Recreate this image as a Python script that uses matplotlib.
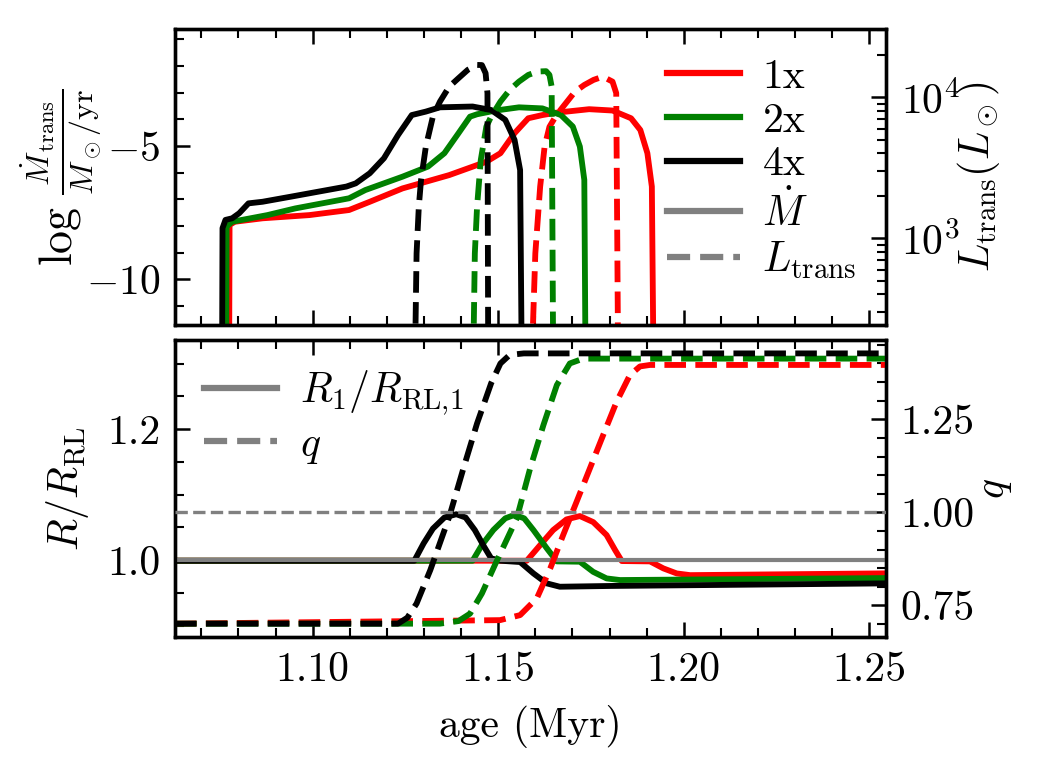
import matplotlib
matplotlib.use("Agg")
import matplotlib.pyplot as plt
from matplotlib.ticker import MultipleLocator, LogLocator, NullFormatter, FormatStrFormatter
from matplotlib.lines import Line2D

plt.rcParams['font.family'] = 'serif'
plt.rcParams['font.serif'] = ['cmr10']
plt.rcParams['mathtext.fontset'] = 'cm'
plt.rcParams['axes.formatter.use_mathtext'] = True
plt.rcParams['font.size'] = 10
plt.rcParams['axes.unicode_minus'] = True

# ---------------- data ----------------
labels = ['1x', '2x', '4x']
colors = ['red', 'green', 'black']

# top panel: log Mdot (solid)
mdot_age_1x = [1.0775, 1.0776, 1.0790, 1.0865, 1.0991, 1.1098, 1.1154, 1.1242, 1.1368, 1.1468,
               1.1506, 1.1544, 1.1581, 1.1619, 1.1657, 1.1745, 1.1808, 1.1858, 1.1883, 1.1902,
               1.1914, 1.1918]
mdot_val_1x = [-12.5, -7.96, -7.84, -7.71, -7.59, -7.40, -7.09, -6.59, -6.09, -5.59,
               -5.27, -4.52, -3.96, -3.84, -3.75, -3.62, -3.67, -3.96, -4.40, -5.27,
               -6.52, -12.5]
mdot_age_2x = [1.0767, 1.0768, 1.0783, 1.0878, 1.0953, 1.1098, 1.1142, 1.1242, 1.1311, 1.1355,
               1.1393, 1.1424, 1.1443, 1.1493, 1.1556, 1.1619, 1.1669, 1.1701, 1.1720, 1.1732,
               1.1735]
mdot_val_2x = [-12.5, -8.02, -7.84, -7.59, -7.34, -6.96, -6.65, -6.15, -5.77, -5.27,
               -4.52, -3.90, -3.81, -3.67, -3.55, -3.59, -3.84, -4.27, -5.02, -6.27,
               -12.5]
mdot_age_4x = [1.0756, 1.0757, 1.0765, 1.0783, 1.0802, 1.0827, 1.0865, 1.0941, 1.1016, 1.1091,
               1.1116, 1.1154, 1.1192, 1.1230, 1.1267, 1.1305, 1.1343, 1.1431, 1.1481, 1.1519,
               1.1544, 1.1559, 1.1563]
mdot_val_4x = [-12.5, -8.08, -7.77, -7.71, -7.52, -7.15, -7.09, -6.90, -6.71, -6.52,
               -6.40, -6.02, -5.46, -4.59, -3.84, -3.71, -3.55, -3.52, -3.65, -4.02,
               -4.77, -5.90, -12.5]

# top panel: L_trans (dashed, right log axis)
lum_age_1x = [1.1591, 1.1600, 1.1613, 1.1625, 1.1638, 1.1657, 1.1682, 1.1707, 1.1732, 1.1757,
              1.1782, 1.1808, 1.1818, 1.1823]
lum_val_1x = [150, 782, 2323, 4467, 6166, 7482, 9057, 10965, 12218, 13274,
              13996, 12900, 10700, 150]
lum_age_2x = [1.1433, 1.1437, 1.1443, 1.1453, 1.1468, 1.1481, 1.1506, 1.1531, 1.1556, 1.1581,
              1.1606, 1.1629, 1.1638, 1.1644, 1.1648]
lum_val_2x = [150, 782, 1675, 3589, 6194, 7295, 9311, 11272, 12912, 14388,
              15205, 15300, 14400, 11900, 150]
lum_age_4x = [1.1276, 1.1280, 1.1286, 1.1292, 1.1305, 1.1324, 1.1343, 1.1368, 1.1393, 1.1418,
              1.1443, 1.1456, 1.1466, 1.1471, 1.1473]
lum_val_4x = [150, 782, 1675, 2588, 4467, 7295, 9311, 11885, 13646, 15631,
              16943, 16900, 14800, 10670, 150]

# bottom panel: R/R_RL (solid)
r_age_1x = [1.0629, 1.1577, 1.1613, 1.1648, 1.1684, 1.1720, 1.1756, 1.1792, 1.1815, 1.1833,
            1.1909, 1.1945, 1.1981, 1.2017, 1.2545]
r_val_1x = [0.999, 0.999, 1.0229, 1.0458, 1.0621, 1.0672, 1.0580, 1.0382, 1.0153, 0.9985,
            0.998, 0.9873, 0.9796, 0.9770, 0.9797]
r_age_2x = [1.0629, 1.1431, 1.1456, 1.1487, 1.1519, 1.1544, 1.1570, 1.1595, 1.1631, 1.1658,
            1.1720, 1.1756, 1.1792, 1.1828, 1.2545]
r_val_2x = [0.999, 0.999, 1.023, 1.046, 1.0637, 1.0690, 1.0637, 1.0458, 1.0179, 0.998,
            0.9975, 0.982, 0.972, 0.9695, 0.9725]
r_age_4x = [1.0629, 1.1274, 1.1299, 1.1324, 1.1355, 1.1387, 1.1412, 1.1437, 1.1462, 1.1481,
            1.1506, 1.1559, 1.1595, 1.1631, 1.1666, 1.1807, 1.2545]
r_val_4x = [0.999, 0.999, 1.0255, 1.048, 1.065, 1.070, 1.065, 1.0458, 1.0204, 1.0026,
            0.999, 0.997, 0.9796, 0.9644, 0.9593, 0.9605, 0.9644]

# bottom panel: q (dashed, right axis)
q_age_1x = [1.0629, 1.1505, 1.1559, 1.1604, 1.1640, 1.1675, 1.1711, 1.1747, 1.1783, 1.1819,
            1.1855, 1.1882, 1.1909, 1.2545]
q_val_1x = [0.701, 0.7105, 0.724, 0.769, 0.849, 0.939, 1.028, 1.118, 1.208, 1.297,
            1.369, 1.392, 1.396, 1.396]
q_age_2x = [1.0629, 1.1343, 1.1393, 1.1424, 1.1456, 1.1493, 1.1550, 1.1586, 1.1622, 1.1658,
            1.1693, 1.1729, 1.2545]
q_val_2x = [0.701, 0.701, 0.708, 0.728, 0.782, 0.863, 0.984, 1.118, 1.235, 1.342,
            1.400, 1.413, 1.413]
q_age_4x = [1.0629, 1.1230, 1.1255, 1.1280, 1.1317, 1.1368, 1.1405, 1.1443, 1.1481, 1.1506,
            1.1531, 1.1569, 1.2545]
q_val_4x = [0.701, 0.701, 0.717, 0.755, 0.845, 0.988, 1.114, 1.239, 1.347, 1.400,
            1.423, 1.427, 1.427]

xlim = (1.0629, 1.2545)
mdot_lim = (-11.71, -0.625)
lum_lim = (243, 30300)
r_lim = (0.883, 1.336)
q_lim = (0.666, 1.463)

mdot_ages = [mdot_age_1x, mdot_age_2x, mdot_age_4x]
mdot_vals = [mdot_val_1x, mdot_val_2x, mdot_val_4x]
lum_ages = [lum_age_1x, lum_age_2x, lum_age_4x]
lum_vals = [lum_val_1x, lum_val_2x, lum_val_4x]
r_ages = [r_age_1x, r_age_2x, r_age_4x]
r_vals = [r_val_1x, r_val_2x, r_val_4x]
q_ages = [q_age_1x, q_age_2x, q_age_4x]
q_vals = [q_val_1x, q_val_2x, q_val_4x]

# ---------------- figure ----------------
W, H = 1037, 777
fig = plt.figure(figsize=(W / 300, H / 300), dpi=300)
L, R = 175 / W, 886 / W
ax1 = fig.add_axes([L, 1 - 325 / H, R - L, (325 - 29.3) / H])
ax2 = fig.add_axes([L, 1 - 636.7 / H, R - L, (636.7 - 340) / H], sharex=ax1)
ax1r = ax1.twinx()
ax2r = ax2.twinx()

lw = 1.4
for a, v, c in zip(mdot_ages, mdot_vals, colors):
    ax1.plot(a, v, color=c, lw=lw, solid_joinstyle='round')
for a, v, c in zip(lum_ages, lum_vals, colors):
    ax1r.plot(a, v, color=c, lw=lw, ls='--')
for a, v, c in zip(r_ages, r_vals, colors):
    ax2.plot(a, v, color=c, lw=lw)
for a, v, c in zip(q_ages, q_vals, colors):
    ax2r.plot(a, v, color=c, lw=lw, ls='--')
ax2.axhline(1.0, color='gray', lw=1.0, zorder=3)
ax2r.axhline(1.0, color='gray', lw=0.8, ls='--', zorder=3)

ax1.set_xlim(*xlim)
ax1.set_ylim(*mdot_lim)
ax1r.set_yscale('log')
ax1r.set_ylim(*lum_lim)
ax2.set_ylim(*r_lim)
ax2r.set_ylim(*q_lim)

ax1.xaxis.set_major_locator(MultipleLocator(0.05))
ax1.xaxis.set_minor_locator(MultipleLocator(0.01))
ax1.yaxis.set_major_locator(MultipleLocator(5))
ax1.yaxis.set_minor_locator(MultipleLocator(1))
ax2.yaxis.set_major_locator(MultipleLocator(0.2))
ax2.yaxis.set_minor_locator(MultipleLocator(0.05))
ax2r.yaxis.set_major_locator(MultipleLocator(0.25))
ax2r.yaxis.set_minor_locator(MultipleLocator(0.05))
ax1r.yaxis.set_major_locator(LogLocator(base=10))
ax1r.yaxis.set_minor_locator(LogLocator(base=10, subs=range(2, 10)))
ax1r.yaxis.set_minor_formatter(NullFormatter())
ax2.xaxis.set_major_formatter(FormatStrFormatter('%.2f'))
ax2r.yaxis.set_major_formatter(FormatStrFormatter('%.2f'))
ax2.yaxis.set_major_formatter(FormatStrFormatter('%.1f'))
plt.setp(ax1.get_xticklabels(), visible=False)

for a in (ax1, ax2, ax1r, ax2r):
    for s in a.spines.values():
        s.set_linewidth(0.8)
    a.tick_params(which='major', direction='in', length=3.6, width=0.6)
    a.tick_params(which='minor', direction='in', length=2.1, width=0.5)
for a in (ax1, ax2):
    a.tick_params(which='both', top=True, right=False)

ax1.set_ylabel(r'$\log\,\frac{\dot M_{\rm trans}}{M_\odot/{\rm yr}}$', fontsize=11)
ax1.yaxis.set_label_coords((105 - 175) / 711, 0.5)
ax1r.set_ylabel(r'$L_{\rm trans}(L_\odot)$', fontsize=10)
ax1r.yaxis.set_label_coords((955 - 175) / 711, 0.5)
ax2.set_ylabel(r'$R/R_{\rm RL}$', fontsize=10)
ax2.yaxis.set_label_coords((91 - 175) / 711, 0.5)
ax2r.set_ylabel(r'$q$', fontsize=10)
ax2r.yaxis.set_label_coords((977 - 175) / 711, 0.5)
ax2.set_xlabel('age (Myr)', fontsize=10)

# legends
h1 = [Line2D([], [], color=c, lw=1.5) for c in colors]
h1 += [Line2D([], [], color='gray', lw=1.5), Line2D([], [], color='gray', lw=1.5, ls='--')]
l1 = labels + [r'$\dot M$', r'$L_{\rm trans}$']
ax1r.legend(h1, l1, loc='upper right', frameon=False, fontsize=10,
            handlelength=1.75, handletextpad=0.55, labelspacing=0.15, borderaxespad=0.3)
h2 = [Line2D([], [], color='gray', lw=1.5), Line2D([], [], color='gray', lw=1.5, ls='--')]
l2 = [r'$R_1/R_{\rm RL,\!1}$', r'$q$']
ax2r.legend(h2, l2, loc='upper left', frameon=False, fontsize=10,
            handlelength=1.75, handletextpad=0.55, labelspacing=0.22, borderaxespad=0.3)

fig.savefig('out.png', dpi=300)
